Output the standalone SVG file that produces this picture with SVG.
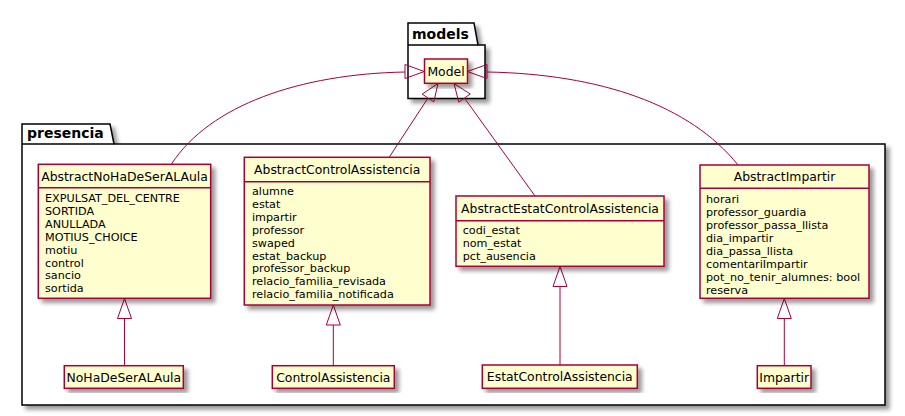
<svg xmlns="http://www.w3.org/2000/svg" width="905" height="416" viewBox="0 0 905 416">
<style>
.pkg{fill:#FFFFFF;stroke:#000000;stroke-width:1.5}
.pkgname{font-family:"DejaVu Sans",sans-serif;font-size:14px;font-weight:bold;fill:#000000}
.cls{fill:#FEFECE;stroke:#A80036;stroke-width:1.5}
.sep{stroke:#A80036;stroke-width:1.5}
.title{font-family:"DejaVu Sans",sans-serif;font-size:12.4px;fill:#000000;text-anchor:middle}
.attr{font-family:"DejaVu Sans",sans-serif;font-size:11.2px;fill:#000000}
.edge{fill:none;stroke:#A80036;stroke-width:1}
.tri{fill:none;stroke:#A80036;stroke-width:1}
</style>
<defs>
<filter id="sh" x="-10%" y="-10%" width="130%" height="130%">
<feGaussianBlur in="SourceAlpha" stdDeviation="2"/>
<feOffset dx="4" dy="4" result="b"/>
<feComponentTransfer><feFuncA type="linear" slope="0.4"/></feComponentTransfer>
<feMerge><feMergeNode/><feMergeNode in="SourceGraphic"/></feMerge>
</filter>
</defs>

<g id="pkg-presencia">
<path class="pkg" filter="url(#sh)" d="M22,124 H110 L114,144 H885 V405 H22 Z"/>
<line x1="22" y1="144" x2="114" y2="144" stroke="#000" stroke-width="1.5"/>
<text class="pkgname" x="27" y="138">presencia</text>
</g>

<g id="pkg-models">
<path class="pkg" filter="url(#sh)" d="M408,23 H474 L478,45 H485 V98.5 H408 Z"/>
<line x1="408" y1="45" x2="478" y2="45" stroke="#000" stroke-width="1.5"/>
<text class="pkgname" x="412" y="39">models</text>
</g>

<g id="connectors">
<path class="edge" d="M405,72 C300,74 210,105 171.5,164"/>
<polygon class="tri" points="424.3,71.5 405,64.5 405,78.5"/>
<path class="edge" d="M487,72 C600,74 690,105 738,165"/>
<polygon class="tri" points="467.3,71.5 487,64.5 487,78.5"/>
<line class="edge" x1="428" y1="98" x2="389" y2="157.5"/>
<polygon class="tri" points="438,83.5 433.8,101.9 422.2,94.1"/>
<line class="edge" x1="464.5" y1="98.1" x2="535" y2="196"/>
<polygon class="tri" points="454,83.5 470.2,94 458.8,102.2"/>
<line class="edge" x1="124.5" y1="318.5" x2="124.5" y2="365.7"/>
<polygon class="tri" points="124.5,298.5 117.5,318.5 131.5,318.5"/>
<line class="edge" x1="333.3" y1="325" x2="333.3" y2="365.7"/>
<polygon class="tri" points="333.3,305 326.3,325 340.3,325"/>
<line class="edge" x1="560" y1="286.5" x2="560" y2="365"/>
<polygon class="tri" points="560,266.5 553,286.5 567,286.5"/>
<line class="edge" x1="784.3" y1="318.5" x2="784.3" y2="365.7"/>
<polygon class="tri" points="784.3,298.5 777.3,318.5 791.3,318.5"/>
</g>

<g id="Model">
<rect class="cls" filter="url(#sh)" x="424.5" y="59" width="43" height="24.3"/>
<text class="title" x="446" y="75.5">Model</text>
</g>

<g id="AbstractNoHaDeSerALAula">
<rect class="cls" filter="url(#sh)" x="38.3" y="164.3" width="172.4" height="134"/>
<line class="sep" x1="38.3" y1="187.7" x2="210.7" y2="187.7"/>
<text class="title" x="124.5" y="181">AbstractNoHaDeSerALAula</text>
<text class="attr" x="45" y="202">EXPULSAT_DEL_CENTRE</text>
<text class="attr" x="45" y="214.9">SORTIDA</text>
<text class="attr" x="45" y="227.8">ANULLADA</text>
<text class="attr" x="45" y="240.7">MOTIUS_CHOICE</text>
<text class="attr" x="45" y="253.6">motiu</text>
<text class="attr" x="45" y="266.5">control</text>
<text class="attr" x="45" y="279.4">sancio</text>
<text class="attr" x="45" y="292.3">sortida</text>
</g>

<g id="AbstractControlAssistencia">
<rect class="cls" filter="url(#sh)" x="244.3" y="157.3" width="185.7" height="147.7"/>
<line class="sep" x1="244.3" y1="181.7" x2="430" y2="181.7"/>
<text class="title" x="337.2" y="174">AbstractControlAssistencia</text>
<text class="attr" x="252" y="195">alumne</text>
<text class="attr" x="252" y="207.9">estat</text>
<text class="attr" x="252" y="220.8">impartir</text>
<text class="attr" x="252" y="233.7">professor</text>
<text class="attr" x="252" y="246.6">swaped</text>
<text class="attr" x="252" y="259.5">estat_backup</text>
<text class="attr" x="252" y="272.4">professor_backup</text>
<text class="attr" x="252" y="285.3">relacio_familia_revisada</text>
<text class="attr" x="252" y="298.2">relacio_familia_notificada</text>
</g>

<g id="AbstractEstatControlAssistencia">
<rect class="cls" filter="url(#sh)" x="456" y="196" width="208" height="70.3"/>
<line class="sep" x1="456" y1="220.7" x2="664" y2="220.7"/>
<text class="title" x="560" y="213">AbstractEstatControlAssistencia</text>
<text class="attr" x="462.7" y="234.3">codi_estat</text>
<text class="attr" x="462.7" y="247.2">nom_estat</text>
<text class="attr" x="462.7" y="260.1">pct_ausencia</text>
</g>

<g id="AbstractImpartir">
<rect class="cls" filter="url(#sh)" x="700" y="165" width="169" height="133.3"/>
<line class="sep" x1="700" y1="188.3" x2="869" y2="188.3"/>
<text class="title" x="784.5" y="181">AbstractImpartir</text>
<text class="attr" x="706" y="203.3">horari</text>
<text class="attr" x="706" y="216.2">professor_guardia</text>
<text class="attr" x="706" y="229.1">professor_passa_llista</text>
<text class="attr" x="706" y="242">dia_impartir</text>
<text class="attr" x="706" y="254.9">dia_passa_llista</text>
<text class="attr" x="706" y="267.8">comentariImpartir</text>
<text class="attr" x="706" y="280.7">pot_no_tenir_alumnes: bool</text>
<text class="attr" x="706" y="293.6">reserva</text>
</g>

<g id="NoHaDeSerALAula">
<rect class="cls" filter="url(#sh)" x="64.3" y="365.7" width="119" height="22.6"/>
<text class="title" x="123.8" y="381.5">NoHaDeSerALAula</text>
</g>

<g id="ControlAssistencia">
<rect class="cls" filter="url(#sh)" x="272.3" y="365.7" width="122" height="22.6"/>
<text class="title" x="333.3" y="381.5">ControlAssistencia</text>
</g>

<g id="EstatControlAssistencia">
<rect class="cls" filter="url(#sh)" x="482.3" y="365" width="155" height="23.3"/>
<text class="title" x="559.8" y="381">EstatControlAssistencia</text>
</g>

<g id="Impartir">
<rect class="cls" filter="url(#sh)" x="757.3" y="365.7" width="53.7" height="22.6"/>
<text class="title" x="784.2" y="381.5">Impartir</text>
</g>
</svg>
